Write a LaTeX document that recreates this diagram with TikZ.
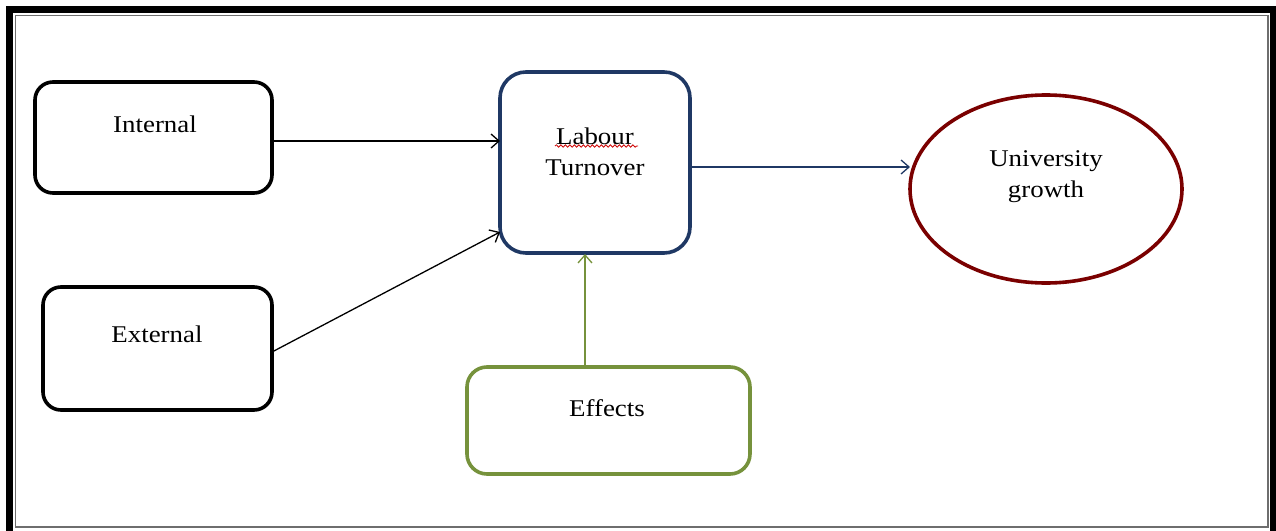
\documentclass[tikz,border=0pt]{standalone}
\usepackage{fontspec}
\setmainfont{Liberation Serif}[FakeStretch=1.12]
\usetikzlibrary{arrows.meta,decorations.pathmorphing}
\definecolor{navy}{RGB}{31,56,100}
\definecolor{darkred}{RGB}{122,0,0}
\definecolor{olivegreen}{RGB}{118,146,60}
\definecolor{framegray}{RGB}{110,110,110}
\tikzset{
  box/.style={draw=black, line width=3.6pt, rounded corners=18pt},
  lbl/.style={font=\fontsize{24}{31}\selectfont, align=center, inner sep=0pt},
  conn/.style={line width=1.3pt, -{Straight Barb[length=8pt,width=14pt,line width=1.3pt]}},
}
\begin{document}
\begin{tikzpicture}[x=1pt,y=-1pt]
\useasboundingbox (0,0) rectangle (1276,530);
% frame
\draw[line width=7pt, black] (9.5,9.5) rectangle (1273.5,560);
\draw[line width=1.5pt, framegray] (15.5,15.5) rectangle (1268,527);
% nodes
\draw[box] (35,82) rectangle (272,193);
\node[lbl] (internal) at (155,124) {Internal};
\draw[box] (43,287) rectangle (272,410);
\node[lbl] (external) at (157,334) {External};
\draw[box, draw=navy, rounded corners=26pt] (500,72) rectangle (690,253);
\node[lbl] (labour) at (595,152) {Labour\\Turnover};
\draw[decorate, decoration={snake, amplitude=1.2pt, segment length=4.5pt}, red!80!black, line width=0.8pt] (555,146) -- (638,146);
\draw[line width=3.6pt, draw=darkred] (1046,189) ellipse [x radius=136, y radius=94];
\node[lbl] (univ) at (1046,177) {University\\growth};
\draw[box, draw=olivegreen, rounded corners=20pt] (467,367) rectangle (750,474);
\node[lbl] (effects) at (607,408) {Effects};
% anchor coordinates
\coordinate (inR) at (272,141);
\coordinate (labL1) at (500,141);
\coordinate (exR) at (272,352);
\coordinate (labL2) at (500,232);
\coordinate (labR) at (690,167);
\coordinate (uniL) at (910,167);
\coordinate (effT) at (585,367);
\coordinate (labB) at (585,254);
% connectors
\draw[conn] (inR) -- (labL1);
\draw[conn] (exR) -- (labL2);
\draw[conn, navy] (labR) -- (uniL);
\draw[conn, olivegreen] (effT) -- (labB);
\end{tikzpicture}
\end{document}
